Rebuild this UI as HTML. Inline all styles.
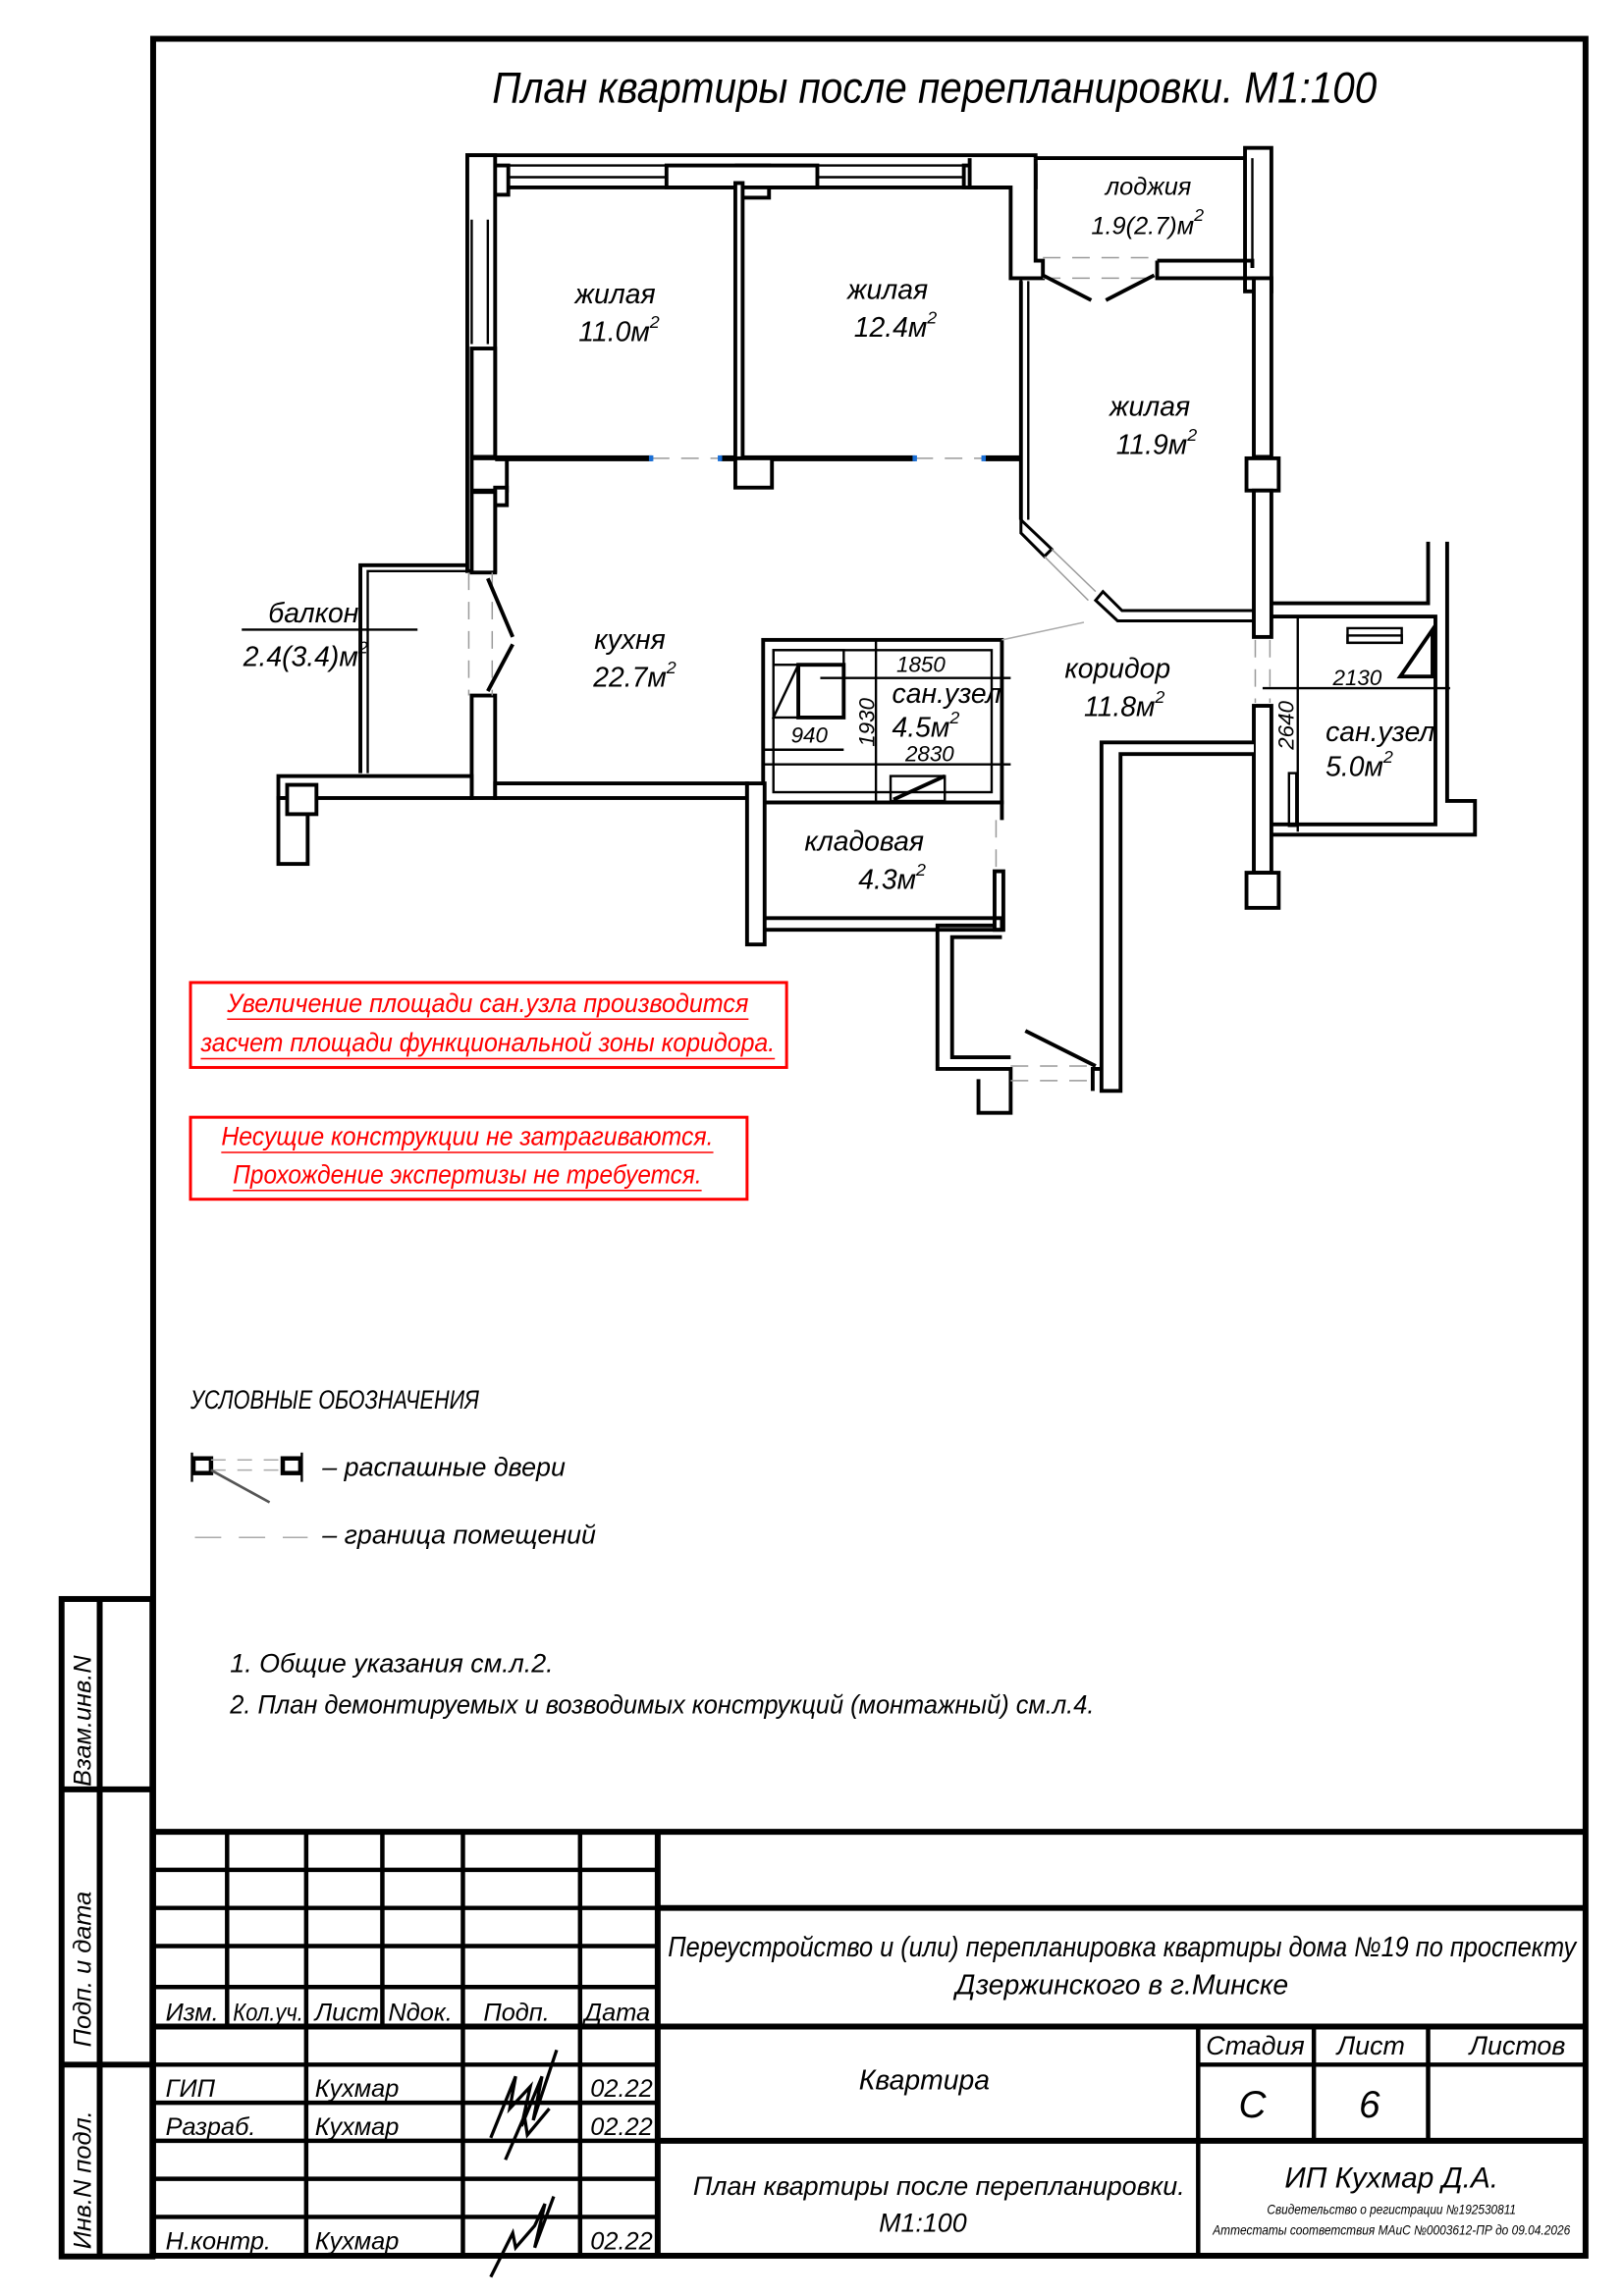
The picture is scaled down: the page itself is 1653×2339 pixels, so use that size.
<!DOCTYPE html>
<html><head><meta charset="utf-8">
<style>
html,body{margin:0;padding:0;background:#fff;}
svg{display:block;}
text{font-family:"Liberation Sans Narrow","Liberation Sans","DejaVu Sans",sans-serif;font-style:italic;fill:#000;}
.w{fill:#fff;stroke:#000;stroke-width:2.6;}
.l{stroke:#000;stroke-width:2.6;fill:none;}
.t{stroke:#000;stroke-width:1.6;fill:none;}
.f{stroke:#000;stroke-width:4;fill:none;}
.d{stroke:#999;stroke-width:1;stroke-dasharray:12,8;fill:none;}
.r{fill:#f00;}
</style></head>
<body>
<svg width="1653" height="2339" viewBox="0 0 1108 1568" xmlns="http://www.w3.org/2000/svg">
<rect x="0" y="0" width="1108" height="1568" fill="#fff"/>
<rect x="104.5" y="26.5" width="978" height="1514" class="f"/>
<rect x="42" y="1092" width="62" height="449" class="f"/>
<line x1="68" y1="1092" x2="68" y2="1541" class="f"/>
<line x1="42" y1="1222" x2="104" y2="1222" class="f"/>
<line x1="42" y1="1410" x2="104" y2="1410" class="f"/>
<text transform="translate(62,1220) rotate(-90)" font-size="17">Взам.инв.N</text>
<text transform="translate(62,1398) rotate(-90)" font-size="17">Подп. и дата</text>
<text transform="translate(62,1536) rotate(-90)" font-size="17">Инв.N подл.</text>

<text x="638" y="70" font-size="30" text-anchor="middle" textLength="604" lengthAdjust="spacingAndGlyphs">План квартиры после перепланировки. М1:100</text>

<!-- top outer wall with windows -->
<rect x="319" y="106" width="388" height="22" class="w"/>
<line x1="346" y1="113" x2="707" y2="113" class="t"/>
<line x1="346" y1="121" x2="707" y2="121" class="t"/>
<rect x="325" y="113" width="22" height="20" class="w"/>
<rect x="503" y="113" width="22" height="22" class="w"/>
<rect x="455" y="113" width="103" height="15" class="w"/>
<rect x="658" y="113" width="49" height="15" class="w"/>
<!-- left wall -->
<rect x="319" y="106" width="19" height="284" class="w"/>
<line x1="322" y1="150" x2="322" y2="235" class="t"/>
<line x1="333" y1="150" x2="333" y2="235" class="t"/>
<rect x="322" y="238" width="16" height="74" class="w"/>
<rect x="322" y="313" width="24" height="22" class="w"/>
<rect x="338" y="333" width="8" height="12" class="w"/>
<rect x="322" y="336" width="16" height="55" class="w"/>
<rect x="322" y="475" width="16" height="70" class="w"/>
<line x1="320" y1="391" x2="320" y2="475" class="d"/>
<line x1="336" y1="391" x2="336" y2="475" class="d"/>
<line x1="333" y1="395" x2="350" y2="435" class="l"/>
<line x1="350" y1="440" x2="333" y2="472" class="l"/>
<!-- balcony -->
<path d="M320 386 H246 V528" class="l"/>
<path d="M320 390 H251 V528" class="t"/>
<line x1="165" y1="430" x2="285" y2="430" class="t"/>
<!-- kitchen bottom wall -->
<rect x="190" y="530" width="132" height="15" class="w"/>
<rect x="338" y="535" width="172" height="10" class="w"/>
<rect x="190" y="545" width="20" height="45" class="w"/>
<rect x="196" y="536" width="20" height="20" class="w"/>
<!-- partitions -->
<rect x="338" y="311" width="107" height="4" fill="#000"/>
<rect x="492" y="311" width="133" height="4" fill="#000"/>
<rect x="672" y="311" width="26" height="4" fill="#000"/>
<line x1="445" y1="313" x2="492" y2="313" class="d"/>
<line x1="625" y1="313" x2="672" y2="313" class="d"/>
<rect x="443" y="311" width="3" height="4" fill="#1a6fd6"/>
<rect x="490" y="311" width="3" height="4" fill="#1a6fd6"/>
<rect x="623" y="311" width="3" height="4" fill="#1a6fd6"/>
<rect x="670" y="311" width="3" height="4" fill="#1a6fd6"/>
<rect x="502" y="125" width="5" height="188" class="w"/>
<rect x="502" y="313" width="25" height="20" class="w"/>
<!-- wall right of 12.4 -->
<path d="M662 108 V128 H690 V190 H712 V178 H707 V108" class="w"/>
<path d="M697 190 V355 L718 375 L713 380 L697 364 Z" class="w" style="stroke-width:2"/>
<line x1="697" y1="192" x2="697" y2="355" class="l"/>
<line x1="702" y1="192" x2="702" y2="355" class="t"/>
<path d="M748 410 L753 404 L766 417 H856 V424 H763 Z" class="w" style="stroke-width:2"/>
<line x1="718" y1="375" x2="748" y2="404" stroke="#999" stroke-width="1"/>
<line x1="713" y1="380" x2="743" y2="410" stroke="#999" stroke-width="1"/>
<!-- loggia -->
<path d="M707 108 H851" class="l"/>
<rect x="850" y="101" width="18" height="98" class="w"/>
<line x1="855" y1="108" x2="855" y2="183" class="t"/>
<path d="M790 178 H855 V183 M790 178 V190 H856" class="l"/>
<line x1="712" y1="176" x2="790" y2="176" class="d"/>
<line x1="712" y1="190" x2="790" y2="190" class="d"/>
<line x1="712" y1="188" x2="745" y2="205" class="l"/>
<line x1="755" y1="205" x2="788" y2="188" class="l"/>
<!-- right wall -->
<rect x="856" y="190" width="12" height="122" class="w"/>
<rect x="851" y="313" width="22" height="22" class="w"/>
<rect x="856" y="335" width="12" height="100" class="w"/>
<line x1="857" y1="437" x2="857" y2="480" class="d"/>
<line x1="867" y1="437" x2="867" y2="480" class="d"/>
<rect x="856" y="482" width="12" height="114" class="w"/>
<rect x="851" y="596" width="22" height="24" class="w"/>
<!-- sanuzel 2 -->
<path d="M868 412 H975 V370 M988 370 V547 H1007 V570 H868" class="l"/>
<path d="M868 421 H980 V563 H868" class="l"/>
<rect x="920" y="429" width="37" height="10" class="t"/>
<rect x="920" y="434" width="37" height="5" class="t"/>
<path d="M956 462 L978 430 V462 Z" class="l"/>
<line x1="886" y1="422" x2="886" y2="568" class="t"/>
<rect x="880" y="528" width="5" height="36" class="t"/>
<line x1="862" y1="470" x2="990" y2="470" class="t"/>
<text x="910" y="468" font-size="15">2130</text>
<text transform="translate(883,512) rotate(-90)" font-size="15">2640</text>
<text x="905" y="506" font-size="19">сан.узел</text>
<text x="905" y="530" font-size="19">5.0м<tspan dy="-9" font-size="12">2</tspan></text>
<!-- corridor lower walls -->
<path d="M856 507 H752 V745 H765 V515 H856" class="w"/>
<path d="M752 730 H746 V745" class="l"/>
<path d="M684 632 H640 V730 H690 V760 H668 V737" class="l"/>
<path d="M684 640 H650 V722 H690" class="l"/>
<line x1="690" y1="728" x2="746" y2="728" class="d"/>
<line x1="690" y1="738" x2="746" y2="738" class="d"/>
<line x1="700" y1="704" x2="748" y2="728" class="l"/>
<!-- sanuzel 1 -->
<rect x="521" y="437" width="163" height="111" class="w"/>
<rect x="528" y="444" width="149" height="97" class="t"/>
<rect x="528" y="444" width="48" height="10" class="t"/>
<path d="M528 490 L545 454 H576 V490 Z" class="t"/>
<rect x="545" y="454" width="31" height="36" class="l"/>
<rect x="608" y="530" width="37" height="17" class="t"/>
<line x1="610" y1="546" x2="645" y2="530" class="l"/>
<line x1="598" y1="438" x2="598" y2="548" class="t"/>
<line x1="560" y1="463" x2="690" y2="463" class="t"/>
<line x1="522" y1="512" x2="576" y2="512" class="t"/>
<line x1="522" y1="522" x2="690" y2="522" class="t"/>
<text x="612" y="459" font-size="15">1850</text>
<text x="540" y="507" font-size="15">940</text>
<text transform="translate(597,510) rotate(-90)" font-size="15">1930</text>
<text x="618" y="520" font-size="15">2830</text>
<text x="609" y="480" font-size="19">сан.узел</text>
<text x="609" y="503" font-size="19">4.5м<tspan dy="-9" font-size="12">2</tspan></text>
<!-- кладовая -->
<rect x="510" y="535" width="12" height="110" class="w"/>
<path d="M522 548 H684 V560" class="l"/>
<line x1="680" y1="560" x2="680" y2="595" class="d"/>
<rect x="679" y="595" width="6" height="40" class="w"/>
<path d="M522 627 H684 V635 H522" class="l"/>
<line x1="684" y1="437" x2="740" y2="425" stroke="#aaa" stroke-width="1"/>

<!-- room labels -->
<text x="420" y="207" font-size="19" text-anchor="middle">жилая</text>
<text x="395" y="233" font-size="19">11.0м<tspan dy="-9" font-size="12">2</tspan></text>
<text x="606" y="204" font-size="19" text-anchor="middle">жилая</text>
<text x="583" y="230" font-size="19">12.4м<tspan dy="-9" font-size="12">2</tspan></text>
<text x="785" y="284" font-size="19" text-anchor="middle">жилая</text>
<text x="762" y="310" font-size="19">11.9м<tspan dy="-9" font-size="12">2</tspan></text>
<text x="784" y="133" font-size="17" text-anchor="middle">лоджия</text>
<text x="745" y="160" font-size="17">1.9(2.7)м<tspan dy="-9" font-size="12">2</tspan></text>
<text x="430" y="443" font-size="19" text-anchor="middle">кухня</text>
<text x="405" y="469" font-size="19">22.7м<tspan dy="-9" font-size="12">2</tspan></text>
<text x="214" y="425" font-size="19" text-anchor="middle">балкон</text>
<text x="166" y="455" font-size="19">2.4(3.4)м<tspan dy="-9" font-size="12">2</tspan></text>
<text x="763" y="463" font-size="19" text-anchor="middle">коридор</text>
<text x="740" y="489" font-size="19">11.8м<tspan dy="-9" font-size="12">2</tspan></text>
<text x="590" y="581" font-size="19" text-anchor="middle">кладовая</text>
<text x="586" y="607" font-size="19">4.3м<tspan dy="-9" font-size="12">2</tspan></text>

<!-- red notes -->
<rect x="130" y="671" width="407" height="58" fill="none" stroke="#f00" stroke-width="2"/>
<text x="333" y="691" font-size="18" text-anchor="middle" class="r" textLength="356" lengthAdjust="spacingAndGlyphs">Увеличение площади сан.узла производится</text>
<line x1="155" y1="696" x2="511" y2="696" stroke="#f00" stroke-width="1"/>
<text x="333" y="718" font-size="18" text-anchor="middle" class="r" textLength="392" lengthAdjust="spacingAndGlyphs">засчет площади функциональной зоны коридора.</text>
<line x1="137" y1="723" x2="529" y2="723" stroke="#f00" stroke-width="1"/>
<rect x="130" y="763" width="380" height="56" fill="none" stroke="#f00" stroke-width="2"/>
<text x="319" y="782" font-size="18" text-anchor="middle" class="r" textLength="336" lengthAdjust="spacingAndGlyphs">Несущие конструкции не затрагиваются.</text>
<line x1="151" y1="787" x2="487" y2="787" stroke="#f00" stroke-width="1"/>
<text x="319" y="808" font-size="18" text-anchor="middle" class="r" textLength="320" lengthAdjust="spacingAndGlyphs">Прохождение экспертизы не требуется.</text>
<line x1="159" y1="813" x2="479" y2="813" stroke="#f00" stroke-width="1"/>

<!-- legend -->
<text x="130" y="962" font-size="18" textLength="197" lengthAdjust="spacingAndGlyphs">УСЛОВНЫЕ ОБОЗНАЧЕНИЯ</text>
<rect x="132" y="996" width="12" height="10" fill="none" stroke="#000" stroke-width="3"/>
<rect x="193" y="996" width="12" height="10" fill="none" stroke="#000" stroke-width="3"/>
<line x1="131" y1="992" x2="131" y2="1012" class="t"/><line x1="206" y1="992" x2="206" y2="1012" class="t"/>
<line x1="144" y1="997" x2="193" y2="997" stroke="#aaa" stroke-width="1" stroke-dasharray="10,8"/>
<line x1="144" y1="1004" x2="193" y2="1004" stroke="#aaa" stroke-width="1" stroke-dasharray="10,8"/>
<line x1="144" y1="1004" x2="184" y2="1026" stroke="#555" stroke-width="1.8"/>
<text x="220" y="1008" font-size="18">– распашные двери</text>
<line x1="133" y1="1050" x2="210" y2="1050" stroke="#aaa" stroke-width="1" stroke-dasharray="18,12"/>
<text x="220" y="1054" font-size="18">– граница помещений</text>

<text x="157" y="1142" font-size="18">1.  Общие указания см.л.2.</text>
<text x="157" y="1170" font-size="18" textLength="590" lengthAdjust="spacingAndGlyphs">2.  План демонтируемых и возводимых конструкций  (монтажный)  см.л.4.</text>

<!-- title block -->
<g stroke="#000" fill="none">
<line x1="104" y1="1251" x2="1083" y2="1251" stroke-width="4"/>
<line x1="449" y1="1251" x2="449" y2="1541" stroke-width="4"/>
<line x1="449" y1="1303" x2="1083" y2="1303" stroke-width="4"/>
<line x1="104" y1="1384" x2="1083" y2="1384" stroke-width="4"/>
<line x1="449" y1="1462" x2="1083" y2="1462" stroke-width="4"/>
<line x1="818" y1="1384" x2="818" y2="1541" stroke-width="3"/>
<line x1="897" y1="1384" x2="897" y2="1462" stroke-width="3"/>
<line x1="975" y1="1384" x2="975" y2="1462" stroke-width="3"/>
<line x1="818" y1="1410" x2="1083" y2="1410" stroke-width="3"/>
<line x1="104" y1="1277" x2="449" y2="1277" stroke-width="3"/>
<line x1="104" y1="1303" x2="449" y2="1303" stroke-width="3"/>
<line x1="104" y1="1329" x2="449" y2="1329" stroke-width="3"/>
<line x1="104" y1="1357" x2="449" y2="1357" stroke-width="3"/>
<line x1="104" y1="1410" x2="449" y2="1410" stroke-width="3"/>
<line x1="104" y1="1436" x2="449" y2="1436" stroke-width="3"/>
<line x1="104" y1="1462" x2="449" y2="1462" stroke-width="3"/>
<line x1="104" y1="1488" x2="449" y2="1488" stroke-width="3"/>
<line x1="104" y1="1514" x2="449" y2="1514" stroke-width="3"/>
<line x1="155" y1="1251" x2="155" y2="1384" stroke-width="3"/>
<line x1="209" y1="1251" x2="209" y2="1541" stroke-width="3"/>
<line x1="261" y1="1251" x2="261" y2="1384" stroke-width="3"/>
<line x1="316" y1="1251" x2="316" y2="1541" stroke-width="3"/>
<line x1="396" y1="1251" x2="396" y2="1541" stroke-width="3"/>
</g>
<text x="113" y="1380" font-size="17">Изм.</text>
<text x="159" y="1380" font-size="17" textLength="48" lengthAdjust="spacingAndGlyphs">Кол.уч.</text>
<text x="215" y="1380" font-size="17">Лист</text>
<text x="265" y="1380" font-size="17">Nдок.</text>
<text x="330" y="1380" font-size="17">Подп.</text>
<text x="399" y="1380" font-size="17">Дата</text>
<text x="113" y="1432" font-size="17">ГИП</text>
<text x="215" y="1432" font-size="17">Кухмар</text>
<text x="403" y="1432" font-size="17">02.22</text>
<text x="113" y="1458" font-size="17">Разраб.</text>
<text x="215" y="1458" font-size="17">Кухмар</text>
<text x="403" y="1458" font-size="17">02.22</text>
<text x="113" y="1536" font-size="17">Н.контр.</text>
<text x="215" y="1536" font-size="17">Кухмар</text>
<text x="403" y="1536" font-size="17">02.22</text>
<path d="M335 1460 L352 1418 L348 1440 L362 1425 L356 1452 L370 1418 L364 1448 L380 1400 M345 1475 L358 1445 L360 1458 L375 1440" stroke="#000" stroke-width="2.2" fill="none"/>
<path d="M335 1555 L350 1525 L352 1535 L365 1520 L372 1505 L365 1535 L378 1500" stroke="#000" stroke-width="2.2" fill="none"/>
<text x="766" y="1336" font-size="19" text-anchor="middle" textLength="620" lengthAdjust="spacingAndGlyphs">Переустройство и (или) перепланировка квартиры дома №19 по проспекту</text>
<text x="766" y="1362" font-size="19" text-anchor="middle">Дзержинского в г.Минске</text>
<text x="631" y="1427" font-size="19" text-anchor="middle">Квартира</text>
<text x="857" y="1403" font-size="18" text-anchor="middle">Стадия</text>
<text x="936" y="1403" font-size="18" text-anchor="middle">Лист</text>
<text x="1036" y="1403" font-size="18" text-anchor="middle">Листов</text>
<text x="855" y="1446" font-size="26" text-anchor="middle">С</text>
<text x="935" y="1446" font-size="26" text-anchor="middle">6</text>
<text x="641" y="1499" font-size="18" text-anchor="middle">План квартиры после перепланировки.</text>
<text x="630" y="1524" font-size="18" text-anchor="middle">М1:100</text>
<text x="950" y="1494" font-size="20" text-anchor="middle">ИП Кухмар Д.А.</text>
<text x="950" y="1512" font-size="9" text-anchor="middle" textLength="170" lengthAdjust="spacingAndGlyphs">Свидетельство о регистрации №192530811</text>
<text x="950" y="1526" font-size="9" text-anchor="middle" textLength="244" lengthAdjust="spacingAndGlyphs">Аттестаты соответствия МАиС №0003612-ПР до 09.04.2026</text>
</svg>
</body></html>
